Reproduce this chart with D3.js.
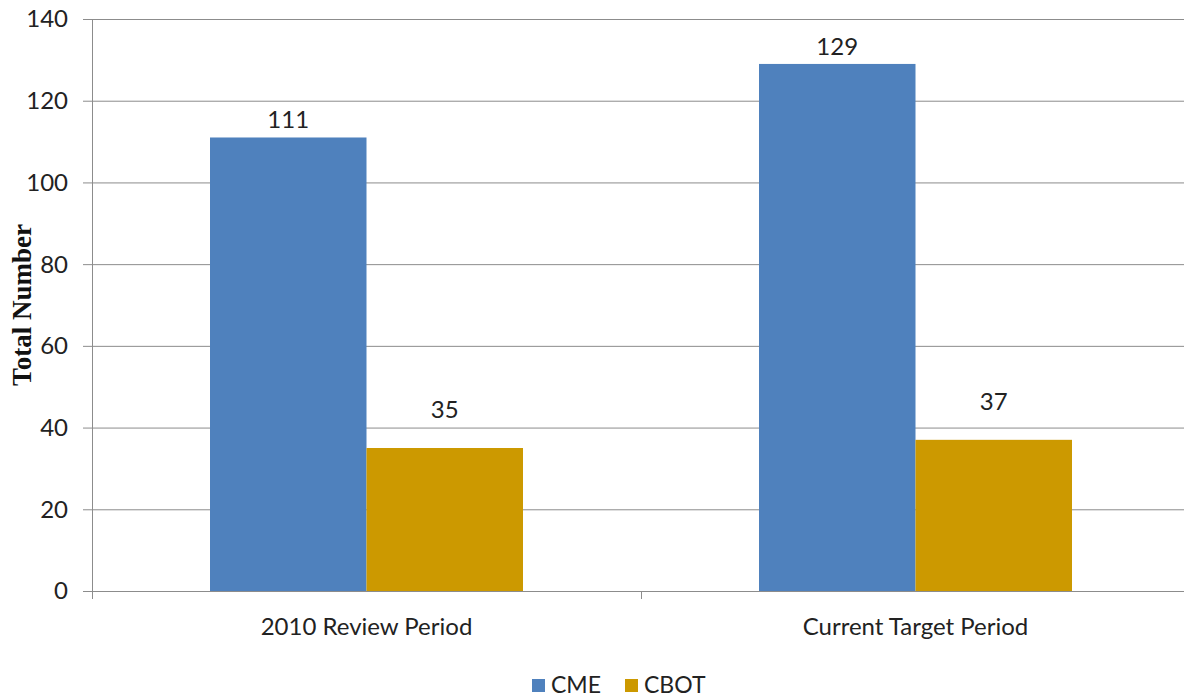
<!DOCTYPE html>
<html><head><meta charset="utf-8">
<script src="https://cdn.jsdelivr.net/npm/d3@7"></script>
<style>body{margin:0;background:#fff;overflow:hidden}svg{display:block}</style>
</head><body>
<svg id="c" width="1184" height="698"></svg>
<script>
const categories = ["2010 Review Period", "Current Target Period"];
const seriesNames = ["CME", "CBOT"];
const cmeValues = [111, 129];
const cbotValues = [35, 37];
const yTicks = [0, 20, 40, 60, 80, 100, 120, 140];
const colors = {CME: "#4F81BD", CBOT: "#CC9900"};
const labelGap = {CME: 9, CBOT: 30};
const font = "Lato, 'Open Sans', sans-serif";

(function () {
const svg = d3.select("#c");
const pLeft = 92, pRight = 1190, pTop = 19, pBottom = 591;
const fs = 24;
const y = d3.scaleLinear().domain([0, 140]).range([pBottom, pTop]);
const x0 = d3.scaleBand().domain(categories).range([pLeft, pRight]).padding(0);
const x1 = d3.scaleBand().domain(seriesNames).range([0, x0.bandwidth()]).paddingInner(0).paddingOuter(0.754);
const data = categories.map((c, i) => ({cat: c, CME: cmeValues[i], CBOT: cbotValues[i]}));

// gridlines
svg.append("g").selectAll("line").data(yTicks).join("line")
  .attr("x1", pLeft - 9).attr("x2", pRight)
  .attr("y1", d => y(d) + 0.5).attr("y2", d => y(d) + 0.5)
  .attr("stroke", "#8c8c8c").attr("stroke-width", 1);
// y labels
svg.append("g").selectAll("text").data(yTicks).join("text")
  .attr("x", 68).attr("y", d => y(d)).attr("dy", "0.35em")
  .attr("text-anchor", "end").attr("font-family", font).attr("font-size", fs).attr("fill", "#222")
  .text(d => d);
// y axis line
svg.append("line").attr("x1", pLeft + 0.5).attr("x2", pLeft + 0.5).attr("y1", pTop).attr("y2", pBottom + 8)
  .attr("stroke", "#8c8c8c");
// category ticks
svg.append("g").selectAll("line").data(categories.map(c => x0(c) + x0.bandwidth())).join("line")
  .attr("x1", d => d + 0.5).attr("x2", d => d + 0.5).attr("y1", pBottom).attr("y2", pBottom + 8)
  .attr("stroke", "#8c8c8c");

// bars
const g = svg.append("g").selectAll("g").data(data).join("g")
  .attr("transform", d => `translate(${x0(d.cat)},0)`);
g.selectAll("rect").data(d => seriesNames.map(s => ({s, v: d[s]}))).join("rect")
  .attr("x", d => x1(d.s)).attr("width", x1.bandwidth())
  .attr("y", d => y(d.v)).attr("height", d => y(0) - y(d.v))
  .attr("fill", d => colors[d.s]);
g.selectAll("text").data(d => seriesNames.map(s => ({s, v: d[s]}))).join("text")
  .attr("x", d => x1(d.s) + x1.bandwidth() / 2).attr("y", d => y(d.v) - labelGap[d.s])
  .attr("text-anchor", "middle").attr("font-family", font).attr("font-size", fs).attr("fill", "#222")
  .text(d => d.v);

// category labels
svg.append("g").selectAll("text").data(categories).join("text")
  .attr("x", d => x0(d) + x0.bandwidth() / 2).attr("y", 635)
  .attr("text-anchor", "middle").attr("font-family", font).attr("font-size", fs).attr("fill", "#222")
  .text(d => d);

// y title
svg.append("text").attr("transform", "translate(31,305) rotate(-90)")
  .attr("text-anchor", "middle").attr("font-family", "'Liberation Serif', serif").attr("font-weight", "bold")
  .attr("font-size", 27).attr("fill", "#111").text("Total Number");

// legend
const leg = svg.append("g").selectAll("g").data(seriesNames).join("g")
  .attr("transform", (d, i) => `translate(${[532, 625][i]},679)`);
leg.append("rect").attr("width", 13).attr("height", 13).attr("fill", d => colors[d]);
leg.append("text").attr("x", 19).attr("y", 14).attr("font-family", font).attr("font-size", 23).attr("fill", "#222").text(d => d);
})();
</script>
</body></html>
